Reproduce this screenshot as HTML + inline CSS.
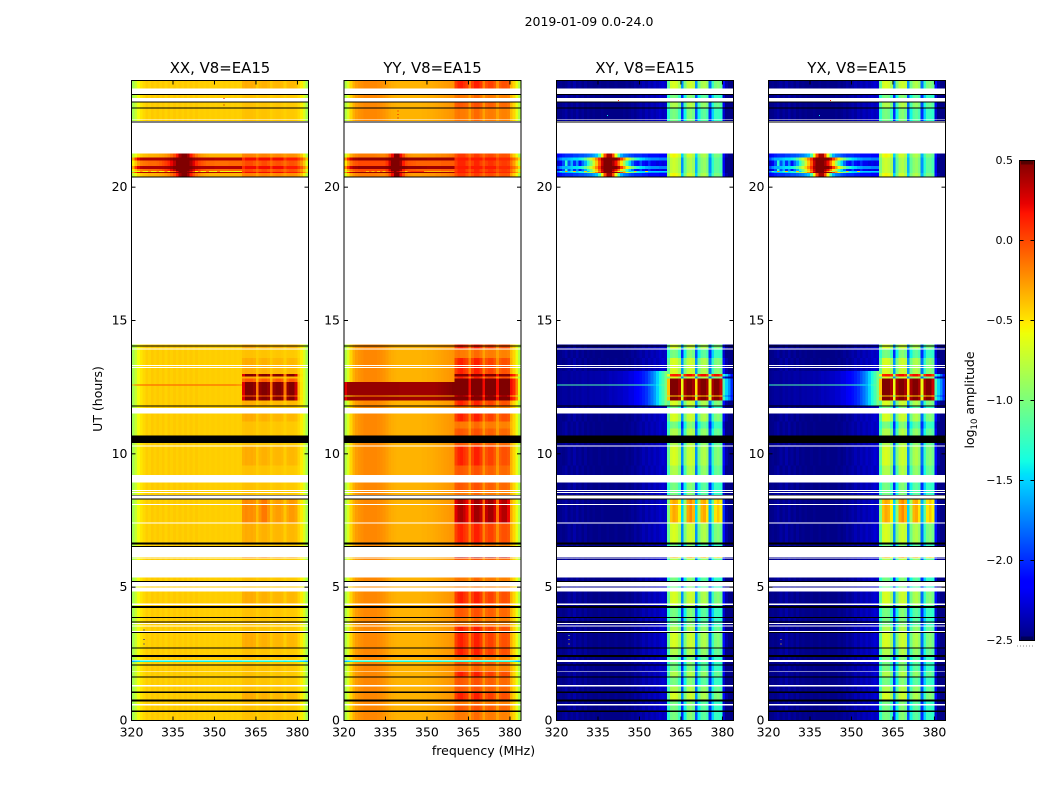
<!DOCTYPE html>
<html>
<head>
<meta charset="utf-8">
<title>2019-01-09 0.0-24.0</title>
<style>
html,body{margin:0;padding:0;background:#fff;}
svg{display:block;}
text{font-family:"DejaVu Sans","Liberation Sans",sans-serif;fill:#000;}
</style>
</head>
<body>
<svg id="figure" xmlns="http://www.w3.org/2000/svg" width="1050" height="800" viewBox="0 0 1050 800">
<rect x="0" y="0" width="1050" height="800" fill="#fff"/>
<text x="589" y="26" font-size="12.5" text-anchor="middle">2019-01-09 0.0-24.0</text>
<text x="0" y="0" font-size="12.5" text-anchor="middle" transform="translate(102 399) rotate(-90)">UT (hours)</text>
<text x="483.5" y="755" font-size="12.5" text-anchor="middle">frequency (MHz)</text>
<text x="0" y="0" font-size="12.5" text-anchor="middle" transform="translate(974 400) rotate(-90)">log<tspan font-size="8.5" dy="3">10</tspan><tspan dy="-3"> amplitude</tspan></text>
<g id="panels"></g>
<g id="colorbar"></g>
</svg>
<script>
// ---- categories and tick labels ----
const panelTitles = ['XX, V8=EA15','YY, V8=EA15','XY, V8=EA15','YX, V8=EA15'];
const channelCount = 64;
const firstFreq = 320;
const xTicks = [320,335,350,365,380];
const yTicks = [0,5,10,15,20];
const colorTicks = [0.5,0,-0.5,-1,-1.5,-2,-2.5];

// ---- XX spectra: log10 amplitude per 1 MHz channel ----
const xxLeftQuiet = [-.85,-.72,-.58,-.5,-.46,-.42,-.44,-.41,-.43,-.41,
 -.43,-.41,-.44,-.41,-.43,-.41,-.43,-.41,-.43,-.41,
 -.43,-.41,-.43,-.41,-.43,-.42,-.43,-.42,-.43,-.42,
 -.43,-.42,-.43,-.42,-.43,-.42,-.43,-.42,-.43,-.42];
const xxLeftLine = [-.3,-.1,-.05,-.03,-.03,-.03,-.03,-.03,-.03,-.03,
 -.03,-.03,-.03,-.03,-.03,-.03,-.03,-.03,-.03,-.03,
 -.03,-.03,-.03,-.03,-.03,-.03,-.03,-.03,-.03,-.03,
 -.03,-.03,-.03,-.03,-.03,-.03,-.03,-.05,-.1,-.15];
const xxLeftFlareDark = [-.3,.05,.25,.35,.38,.38,.38,.38,.38,.38,
 .38,.38,.4,.42,.45,.5,.5,.5,.5,.5,
 .5,.5,.45,.42,.4,.38,.38,.38,.38,.38,
 .36,.36,.36,.36,.36,.36,.36,.36,.36,.36];
const xxLeftFlareMid = [-.55,-.4,-.25,-.17,-.14,-.12,-.1,-.1,-.1,-.08,
 -.05,0,.05,.12,.22,.35,.5,.5,.5,.5,
 .5,.4,.25,.12,.03,-.03,-.07,-.1,-.1,-.1,
 -.12,-.12,-.12,-.12,-.12,-.1,-.1,-.1,-.1,-.1];
const xxLeftFlareEdge = [-.75,-.6,-.48,-.42,-.38,-.36,-.34,-.34,-.33,-.32,
 -.3,-.28,-.25,-.2,-.12,-.02,.15,.4,.5,.5,
 .4,.15,-.02,-.14,-.22,-.27,-.3,-.32,-.34,-.34,
 -.34,-.34,-.34,-.34,-.34,-.34,-.34,-.34,-.34,-.34];
const xxLeftFlareLine = [-.8,-.55,-.6,-.3,-.55,-.6,-.3,-.6,-.55,-.3,
 -.6,-.55,-.2,-.55,-.2,-.1,.2,.5,.5,.5,
 .4,.2,-.1,-.55,-.2,-.6,-.55,-.2,-.6,-.55,
 -.6,-.2,-.6,-.55,-.6,-.6,-.55,-.6,-.6,-.55];
const xxLeftCyan = [-1.6,-1.5,-1.45,-1.4,-1.4,-1.4,-1.4,-1.4,-1.4,-1.4,
 -1.4,-1.4,-1.4,-1.4,-1.4,-1.4,-1.4,-1.4,-1.4,-1.4,
 -1.4,-1.4,-1.4,-1.4,-1.4,-1.4,-1.4,-1.4,-1.4,-1.4,
 -1.4,-1.4,-1.4,-1.4,-1.4,-1.4,-1.4,-1.4,-1.4,-1.4];
const xxBandQuiet = [-.39,-.38,-.38,-.38,-.39,-.42,-.4,-.39,-.39,-.4,-.43,-.41,-.4,-.4,-.41,-.43,-.41,-.41,-.41,-.42,-.46,-.53,-.65,-.85];
const xxBandMid = [-.33,-.31,-.32,-.31,-.33,-.41,-.35,-.33,-.33,-.35,-.41,-.36,-.35,-.35,-.36,-.42,-.36,-.35,-.35,-.37,-.44,-.52,-.65,-.85];
const xxBandWarm = [-.22,-.2,-.22,-.21,-.24,-.36,-.24,-.15,-.15,-.25,-.38,-.3,-.27,-.27,-.3,-.4,-.3,-.26,-.26,-.3,-.44,-.52,-.65,-.85];
const xxBandHot = [.25,.5,.5,.5,.45,-.15,.45,.5,.5,.45,-.15,.45,.5,.5,.45,-.15,.45,.5,.5,.3,-.35,-.5,-.65,-.85];
const xxBandPre = [-.12,-.05,-.05,-.05,-.1,-.35,-.12,-.05,-.05,-.1,-.35,-.12,-.05,-.05,-.1,-.35,-.12,-.05,-.05,-.12,-.42,-.52,-.65,-.85];
const xxBandFlareDark = [.1,.2,.2,.2,.2,.05,.2,.2,.2,.2,.05,.2,.2,.2,.2,.05,.15,.15,.15,.15,.05,-.05,-.2,-.4];
const xxBandFlareMid = [-.05,0,0,0,-.05,-.12,-.05,0,0,-.05,-.12,-.05,-.02,-.02,-.05,-.12,-.05,-.02,-.02,-.05,-.15,-.25,-.4,-.65];
const xxBandFlareEdge = [-.2,-.18,-.18,-.18,-.2,-.27,-.2,-.18,-.18,-.2,-.27,-.22,-.2,-.2,-.22,-.27,-.23,-.22,-.22,-.24,-.3,-.4,-.55,-.8];
const xxBandCyan = [-1.35,-1.35,-1.35,-1.35,-1.35,-1.4,-1.35,-1.35,-1.35,-1.35,-1.4,-1.35,-1.35,-1.35,-1.35,-1.4,-1.35,-1.35,-1.35,-1.35,-1.4,-1.45,-1.5,-1.6];

// ---- YY spectra ----
const yyLeftQuiet = [-.8,-.65,-.45,-.33,-.27,-.24,-.22,-.2,-.2,-.2,
 -.2,-.2,-.21,-.22,-.24,-.27,-.3,-.32,-.33,-.34,
 -.34,-.34,-.34,-.34,-.34,-.34,-.34,-.34,-.33,-.33,
 -.32,-.32,-.31,-.3,-.29,-.28,-.27,-.26,-.25,-.24];
const yyLeftDark = [.25,.42,.44,.44,.44,.44,.44,.44,.44,.44,
 .44,.44,.44,.44,.44,.44,.44,.44,.44,.44,
 .42,.42,.42,.42,.42,.42,.42,.42,.42,.42,
 .42,.42,.42,.43,.44,.45,.46,.47,.48,.5];
const yyLeftFlareDark = [-.2,.1,.3,.4,.42,.45,.45,.45,.45,.45,
 .45,.45,.45,.45,.45,.47,.5,.5,.5,.5,
 .5,.5,.48,.45,.45,.45,.45,.45,.44,.44,
 .42,.42,.42,.42,.42,.42,.42,.42,.42,.42];
const yyLeftFlareMid = [-.5,-.3,-.15,-.06,-.03,0,0,0,0,0,
 0,0,0,0,0,.08,.3,.5,.5,.5,
 .4,.15,.02,-.03,-.05,-.06,-.08,-.08,-.08,-.08,
 -.08,-.08,-.08,-.08,-.08,-.06,-.06,-.06,-.06,-.06];
const yyLeftFlareEdge = [-.68,-.48,-.33,-.24,-.2,-.17,-.16,-.16,-.16,-.16,
 -.16,-.17,-.18,-.2,-.2,-.15,0,.2,.5,.5,
 .2,0,-.18,-.24,-.26,-.27,-.27,-.27,-.26,-.26,
 -.25,-.24,-.24,-.22,-.22,-.2,-.2,-.18,-.16,-.14];
const yyLeftFlareLine = [-.7,-.5,-.3,-.2,-.1,-.1,-.05,-.1,-.35,-.1,
 -.35,-.1,-.4,-.1,-.4,-.1,.05,.3,.5,.3,
 .05,-.1,-.4,-.05,.05,.05,.05,.05,.05,-.3,
 -.35,-.35,-.35,-.35,-.35,-.3,-.3,-.3,-.25,-.25];
const yyLeftCyan = [-1.6,-1.5,-1.4,-1.35,-1.35,-1.3,-1.3,-1.3,-1.3,-1.3,
 -1.3,-1.3,-1.3,-1.3,-1.3,-1.35,-1.35,-1.35,-1.35,-1.35,
 -1.35,-1.35,-1.35,-1.35,-1.35,-1.35,-1.35,-1.35,-1.35,-1.35,
 -1.35,-1.35,-1.35,-1.35,-1.35,-1.3,-1.3,-1.3,-1.3,-1.3];
const yyBandQuiet = [-.16,-.14,-.16,-.16,-.18,-.28,-.16,-.1,-.1,-.16,-.28,-.18,-.16,-.16,-.18,-.28,-.2,-.18,-.18,-.2,-.36,-.45,-.6,-.8];
const yyBandMid = [-.07,-.04,-.05,-.07,-.09,-.24,-.07,-.02,-.02,-.07,-.24,-.1,-.07,-.07,-.11,-.26,-.12,-.1,-.1,-.13,-.34,-.45,-.6,-.8];
const yyBandWarm = [.03,.12,.14,.08,.03,-.18,.03,.14,.14,.05,-.18,-.02,.03,.03,-.05,-.23,-.07,-.02,-.02,-.05,-.33,-.45,-.6,-.8];
const yyBandVery = [.25,.38,.4,.33,.22,-.1,.27,.42,.42,.33,-.1,.33,.42,.42,.27,-.13,.27,.37,.37,.22,-.3,-.45,-.6,-.8];
const yyBandHot = [.5,.5,.5,.5,.5,.2,.5,.5,.5,.5,.2,.5,.5,.5,.5,.2,.5,.5,.5,.5,.2,.1,-.2,-.6];
const yyBandFlareDark = [.1,.15,.15,.15,.15,.02,.15,.15,.15,.15,.02,.15,.15,.15,.15,.02,.1,.1,.1,.1,-.03,-.12,-.27,-.45];
const yyBandFlareMid = [.03,.12,.12,.12,.03,-.05,.03,.12,.12,.03,-.05,.03,.08,.08,.03,-.05,.02,.05,.05,.02,-.13,-.27,-.47,-.72];
const yyBandFlareEdge = [-.03,.05,.05,.05,-.03,-.12,-.03,.05,.05,-.03,-.12,-.03,0,0,-.05,-.14,-.05,-.03,-.03,-.05,-.28,-.42,-.57,-.82];
const yyBandCyan = [-1.3,-1.3,-1.3,-1.3,-1.3,-1.35,-1.3,-1.3,-1.3,-1.3,-1.35,-1.3,-1.3,-1.3,-1.3,-1.35,-1.3,-1.3,-1.3,-1.3,-1.35,-1.4,-1.5,-1.6];

// ---- XY spectra (also used for the near-identical YX panel) ----
const xyLeftNoiseA = [-2.48,-2.47,-2.44,-2.4,-2.47,-2.42,-2.46,-2.4,-2.47,-2.43,
 -2.48,-2.45,-2.48,-2.46,-2.48,-2.48,-2.46,-2.48,-2.48,-2.48,
 -2.48,-2.48,-2.48,-2.48,-2.46,-2.48,-2.46,-2.43,-2.46,-2.42,
 -2.38,-2.42,-2.36,-2.4,-2.34,-2.38,-2.34,-2.3,-2.34,-2.3];
const xyLeftNoiseB = [-2.48,-2.46,-2.48,-2.46,-2.41,-2.46,-2.39,-2.46,-2.43,-2.48,
 -2.43,-2.48,-2.46,-2.48,-2.48,-2.46,-2.48,-2.48,-2.46,-2.48,
 -2.48,-2.46,-2.48,-2.48,-2.48,-2.45,-2.48,-2.46,-2.41,-2.45,
 -2.41,-2.36,-2.4,-2.34,-2.38,-2.32,-2.36,-2.32,-2.28,-2.32];
const xyLeftHalo = [-2.46,-2.44,-2.42,-2.42,-2.44,-2.4,-2.42,-2.4,-2.42,-2.39,
 -2.4,-2.42,-2.39,-2.4,-2.39,-2.39,-2.37,-2.39,-2.37,-2.34,
 -2.36,-2.34,-2.32,-2.32,-2.29,-2.29,-2.24,-2.24,-2.19,-2.14,
 -2.09,-2.04,-1.98,-1.88,-1.78,-1.66,-1.5,-1.35,-1.2,-1];
const xyLeftLine = [-1.3,-1.2,-1.15,-1.15,-1.15,-1.15,-1.15,-1.15,-1.15,-1.15,
 -1.15,-1.15,-1.15,-1.15,-1.15,-1.15,-1.15,-1.15,-1.15,-1.15,
 -1.15,-1.15,-1.15,-1.15,-1.15,-1.15,-1.15,-1.15,-1.15,-1.15,
 -1.2,-1.25,-1.3,-1.35,-1.4,-1.5,-1.4,-1.2,-1.1,-1];
const xyLeftFlareDark = [-1.9,-1.7,-1.6,-1.6,-1.55,-1.5,-1.45,-1.45,-1.4,-1.3,
 -1.1,-.9,-.7,-.45,-.2,.1,.4,.5,.5,.5,
 .5,.5,.35,.05,-.25,-.55,-.8,-1,-1.2,-1.35,
 -1.45,-1.5,-1.6,-1.65,-1.7,-1.7,-1.7,-1.75,-1.75,-1.75];
const xyLeftFlareMid = [-2.3,-2.2,-1.9,-1.3,-1.9,-1.6,-2,-1.7,-2.1,-1.8,
 -1.6,-1.3,-1,-.7,-.4,-.05,.3,.5,.5,.5,
 .4,.2,-.15,-.5,-.85,-1.2,-1.5,-1.8,-2.05,-2.1,
 -1.9,-2.1,-2.2,-2,-2.2,-2.2,-2.25,-2.2,-2.25,-2.2];
const xyLeftFlareEdge = [-2.2,-2.1,-2.05,-2,-2,-2,-1.95,-1.95,-1.9,-1.9,
 -1.85,-1.8,-1.75,-1.65,-1.55,-1.2,-.6,0,.4,.4,
 0,-.6,-1.2,-1.6,-1.75,-1.8,-1.9,-1.95,-2,-2,
 -2,-2.05,-2.05,-2.1,-2.1,-2.1,-2.1,-2.15,-2.15,-2.15];
const xyLeftFlareLine = [-1.7,-1.2,-1.5,-.3,-1.5,-1.2,-.4,-1.5,-1.2,-1.5,
 -.4,-1.5,-1.1,-.8,-.5,-.2,.2,.5,.5,.5,
 .2,-.2,-.6,-1,-.4,-1.3,-1.5,-1.4,-.4,-1.4,
 -1.5,-1.5,-.5,-1.5,-1.5,-1.5,-1.5,-1.5,-1.5,-1.5];
const xyBandCool = [-1.3,-1.05,-1,-1.05,-1.25,-2,-1.4,-1,-.95,-1.05,-1.9,-1.4,-1.15,-1.1,-1.2,-2,-1.5,-1.25,-1.25,-1.3,-2.3,-2.48,-2.48,-2.48];
const xyBandMid = [-1.2,-.85,-.8,-.82,-1,-1.9,-1.2,-.85,-.78,-.85,-1.8,-1.2,-.95,-.9,-1,-1.9,-1.35,-1.1,-1.05,-1.15,-2.2,-2.48,-2.48,-2.48];
const xyBandBright = [-1.1,-.7,-.65,-.7,-.85,-1.7,-1,-.75,-.7,-.75,-1.7,-1.05,-.85,-.8,-.9,-1.8,-1.25,-1,-.95,-1.05,-2.1,-2.4,-2.48,-2.48];
const xyBandOrange = [-1,-.4,-.3,-.35,-.55,-1.5,-.9,-.3,-.2,-.35,-1.5,-.85,-.35,-.3,-.5,-1.6,-1.1,-.5,-.4,-.55,-2,-2.4,-2.48,-2.48];
const xyBandHot = [-.4,.5,.5,.5,.4,-.6,.4,.5,.5,.4,-.5,.4,.5,.5,.4,-.6,.4,.5,.5,.3,-1.2,-1.5,-1.7,-2];
const xyBandRed = [-.6,.1,.15,.15,.1,-.9,.1,.2,.2,.1,-.8,.1,.2,.2,.1,-.9,.1,.2,.2,.05,-1.3,-1.5,-1.8,-2.1];
const xyBandPre = [-.9,-.45,-.4,-.4,-.5,-1.2,-.5,-.4,-.4,-.5,-1.2,-.5,-.4,-.4,-.5,-1.2,-.5,-.4,-.4,-.55,-1.6,-1.8,-1.95,-2.1];
const xyBandFlare = [-1,-.75,-.7,-.75,-.85,-1.7,-1.1,-.85,-.8,-.9,-1.6,-1.1,-.95,-.9,-1,-1.7,-1.3,-1.1,-1.1,-1.2,-2.2,-2.48,-2.48,-2.48];
const xyBandFlareEdge = [-.85,-.6,-.55,-.6,-.7,-1.5,-1,-.7,-.7,-.8,-1.5,-1,-.85,-.8,-.9,-1.6,-1.2,-1,-1,-1.1,-2.1,-2.4,-2.48,-2.48];

// profile lookup per panel
const xxProfiles = {
 c:[...xxLeftQuiet,...xxBandQuiet], C:[...xxLeftQuiet,...xxBandQuiet],
 m:[...xxLeftQuiet,...xxBandQuiet], M:[...xxLeftQuiet,...xxBandQuiet],
 y:[...xxLeftQuiet,...xxBandMid], o:[...xxLeftQuiet,...xxBandWarm],
 r:[...xxLeftQuiet,...xxBandHot], p:[...xxLeftQuiet,...xxBandPre],
 s:[...xxLeftQuiet,...xxBandPre], z:[...xxLeftQuiet,...xxBandMid],
 h:[...xxLeftQuiet,...xxBandHot], l:[...xxLeftLine,...xxBandHot],
 fd:[...xxLeftFlareDark,...xxBandFlareDark], fm:[...xxLeftFlareMid,...xxBandFlareMid],
 fe:[...xxLeftFlareEdge,...xxBandFlareEdge], fl:[...xxLeftFlareLine,...xxBandFlareMid],
 cy:[...xxLeftCyan,...xxBandCyan]
};
const yyProfiles = {
 c:[...yyLeftQuiet,...yyBandQuiet], C:[...yyLeftQuiet,...yyBandMid],
 m:[...yyLeftQuiet,...yyBandMid], M:[...yyLeftQuiet,...yyBandWarm],
 y:[...yyLeftQuiet,...yyBandWarm], o:[...yyLeftQuiet,...yyBandVery],
 r:[...yyLeftQuiet,...yyBandHot], p:[...yyLeftQuiet,...yyBandVery],
 s:[...yyLeftQuiet,...yyBandHot], z:[...yyLeftQuiet,...yyBandWarm],
 h:[...yyLeftDark,...yyBandHot], l:[...yyLeftDark,...yyBandHot],
 fd:[...yyLeftFlareDark,...yyBandFlareDark], fm:[...yyLeftFlareMid,...yyBandFlareMid],
 fe:[...yyLeftFlareEdge,...yyBandFlareEdge], fl:[...yyLeftFlareLine,...yyBandFlareMid],
 cy:[...yyLeftCyan,...yyBandCyan]
};
const xyProfiles = {
 c:[...xyLeftNoiseA,...xyBandCool], C:[...xyLeftNoiseB,...xyBandCool],
 m:[...xyLeftNoiseA,...xyBandMid], M:[...xyLeftNoiseB,...xyBandMid],
 y:[...xyLeftNoiseB,...xyBandBright], o:[...xyLeftNoiseA,...xyBandOrange],
 r:[...xyLeftHalo,...xyBandRed], p:[...xyLeftHalo,...xyBandPre],
 s:[...xyLeftHalo,...xyBandHot], z:[...xyLeftHalo,...xyBandBright],
 h:[...xyLeftHalo,...xyBandHot], l:[...xyLeftLine,...xyBandHot],
 fd:[...xyLeftFlareDark,...xyBandFlare], fm:[...xyLeftFlareMid,...xyBandFlare],
 fe:[...xyLeftFlareEdge,...xyBandFlareEdge], fl:[...xyLeftFlareLine,...xyBandFlare]
};
const yxProfiles = xyProfiles;
const panelProfiles = [xxProfiles,yyProfiles,xyProfiles,yxProfiles];

// ---- scans: hour top, hour bottom, profile key ----
const scans = [
 [24,23.7,'y'],[23.45,23.34,'c'],[23.18,22.99,'m'],[22.95,22.56,'c'],[22.53,22.49,'c'],
 [21.26,21.12,'fe'],[21.11,21,'fd'],[21,20.94,'fm'],[20.94,20.8,'fm'],[20.8,20.69,'fd'],
 [20.69,20.61,'fm'],[20.61,20.57,'fl'],[20.57,20.53,'fd'],[20.53,20.4,'fe'],
 [14.1,14.06,'y'],[14.03,13.95,'y'],[13.91,13.6,'c'],[13.6,13.34,'y'],[13.3,13.25,'y'],
 [13.21,13.1,'y'],[13.1,12.99,'z'],[12.99,12.9,'r'],[12.9,12.82,'z'],[12.82,12.69,'s'],
 [12.69,12.6,'h'],[12.6,12.56,'l'],[12.56,12.19,'h'],[12.19,12.15,'p'],[12.15,12,'h'],
 [12,11.81,'z'],[11.78,11.71,'c'],
 [11.51,11.21,'y'],[11.21,10.95,'c'],[10.95,10.69,'m'],[10.4,10.31,'m'],[10.28,9.56,'y'],
 [9.56,9.2,'m'],[8.93,8.65,'C'],[8.61,8.57,'c'],[8.53,8.46,'c'],[8.29,8.12,'o'],
 [8.08,7.43,'o'],[7.39,6.68,'y'],[6.6,6.55,'c'],[6.14,6.11,'o'],[6.08,6.01,'m'],
 [5.36,5.24,'c'],[5.03,4.99,'c'],[4.84,4.38,'y'],[4.34,4.29,'m'],[4.21,3.89,'C'],
 [3.85,3.71,'c'],[3.68,3.65,'c'],[3.61,3.57,'c'],[3.53,3.36,'M'],[3.28,2.74,'y'],
 [2.7,2.46,'M'],[2.39,2.27,'c'],[2.25,2.2,'cy'],[2.2,2.1,'C'],[2.06,1.86,'c'],
 [1.83,1.65,'M'],[1.61,1.34,'C'],[1.28,1.08,'m'],[1.04,0.78,'y'],[0.72,0.62,'c'],
 [0.57,0.37,'C'],[0.31,0,'c']
];
// fully flagged (black) rows: hour top, hour bottom
const blackRows = [
 [23.5,23.46],[23.22,23.18],[22.99,22.95],[22.46,22.43],[20.4,20.36],[14.06,14.03],
 [11.81,11.78],[10.69,10.4],[8.45,8.43],[8.33,8.29],[6.68,6.6],[6.55,6.5],[5.24,5.2],
 [4.29,4.21],[3.89,3.85],[3.71,3.68],[3.32,3.28],[2.74,2.7],[2.46,2.39],[2.1,2.06],
 [1.65,1.61],[1.08,1.04],[0.78,0.72],[0.37,0.31]
];
// isolated pixels: panel, channel, hour, value
const speckPanel = [0,0,0,0,0,1,1,1,2,2,2,2,2,3,3,3,3];
const speckChan = [4,4,4,33,33,19,19,19,22,18,4,4,4,22,18,4,4];
const speckHour = [3.41,3.06,2.88,23.35,23.1,22.88,22.75,22.62,23.27,22.7,3.2,3.06,2.88,23.27,22.7,3.06,2.88];
const speckVal = [-2.4,-2.4,-2.4,.3,.4,.2,.2,.3,.1,-1.4,-1,-.4,-.4,.1,-1.4,-.4,-.4];

// ---- geometry and scales ----
const panelLefts = [131.5,344,556.5,768.5];
const axW = 177, axTop = 80.5, axBottom = 720.5;
const xScale = (left, f) => left + (f - firstFreq) * axW / channelCount;
const yScale = t => axBottom - t * (axBottom - axTop) / 24;

const jetR = [[0,0],[.35,0],[.66,1],[.89,1],[1,.5]];
const jetG = [[0,0],[.125,0],[.375,1],[.64,1],[.91,0],[1,0]];
const jetB = [[0,.5],[.11,1],[.34,1],[.65,0],[1,0]];
function lerp(tab, x){
  for(let i=1;i<tab.length;i++){
    if(x<=tab[i][0]){
      const a=tab[i-1],b=tab[i];
      return a[1]+(b[1]-a[1])*(x-a[0])/(b[0]-a[0]);
    }
  }
  return tab[tab.length-1][1];
}
function jet(v){
  const f=Math.max(0,Math.min(1,(v+2.5)/3));
  return 'rgb('+Math.round(lerp(jetR,f)*255)+','+Math.round(lerp(jetG,f)*255)+','+Math.round(lerp(jetB,f)*255)+')';
}

const NS='http://www.w3.org/2000/svg';
function mk(tag, parent, props){
  const el=document.createElementNS(NS,tag);
  for(const k in props){ el.setAttribute(k,props[k]); }
  parent.appendChild(el);
  return el;
}

const panelsG=document.getElementById('panels');
panelTitles.forEach((title,p)=>{
  const left=panelLefts[p];
  const profiles=panelProfiles[p];
  const g=mk('g',panelsG,{});
  
  
  const cells=mk('g',g,{'shape-rendering':'crispEdges'});
  
  
  scans.forEach(s=>{
    const prof=profiles[s[2]];
    if(!prof) return;
    const y0=yScale(s[0]), y1=yScale(s[1]);
    for(let c=0;c<channelCount;c++){
      const x0=xScale(left,firstFreq+c), x1=xScale(left,firstFreq+c+1);
      const r=mk('rect',cells,{x:x0,y:y0,width:x1-x0,height:y1-y0,fill:jet(prof[c])});
      
      
    }
  });
  blackRows.forEach(b=>{
    const r=mk('rect',cells,{x:left,y:yScale(b[0]),width:axW,height:yScale(b[1])-yScale(b[0]),fill:'#000'});
    
    
  });
  speckPanel.forEach((sp,i)=>{
    if(sp!==p) return;
    const x0=xScale(left,firstFreq+speckChan[i]);
    const r=mk('rect',cells,{x:x0+0.9,y:yScale(speckHour[i]),width:1,height:1,fill:jet(speckVal[i])});
    
    
  });
  const frame=mk('rect',g,{x:left,y:axTop,width:axW,height:axBottom-axTop,fill:'none',stroke:'#000','stroke-width':1});
  
  
  const t=mk('text',g,{x:left+axW/2,y:73,'font-size':'14.9','text-anchor':'middle'});
  t.textContent=title;
  
  
  xTicks.forEach(v=>{
    const x=xScale(left,v);
    const a=mk('line',g,{x1:x,x2:x,y1:axBottom,y2:axBottom-4,stroke:'#000','stroke-width':1});
    
    
    const b=mk('line',g,{x1:x,x2:x,y1:axTop,y2:axTop+4,stroke:'#000','stroke-width':1});
    
    
    const lb=mk('text',g,{x:x,y:736.5,'font-size':'12.5','text-anchor':'middle'});
    lb.textContent=String(v);
    
    
  });
  yTicks.forEach(v=>{
    const y=yScale(v);
    const a=mk('line',g,{x1:left,x2:left+4,y1:y,y2:y,stroke:'#000','stroke-width':1});
    
    
    const b=mk('line',g,{x1:left+axW,x2:left+axW-4,y1:y,y2:y,stroke:'#000','stroke-width':1});
    
    
    const lb=mk('text',g,{x:left-4,y:y+4,'font-size':'12.5','text-anchor':'end'});
    lb.textContent=String(v);
    
    
  });
});

// ---- colorbar ----
const cbG=document.getElementById('colorbar');
const cbX=1019.5, cbW=15, cbTop=160.5, cbBottom=640.5;
const cbScale=v=>cbBottom-(v+2.5)*(cbBottom-cbTop)/3;
const cbCells=mk('g',cbG,{'shape-rendering':'crispEdges'});


for(let i=0;i<240;i++){
  const v0=-2.5+i*3/240, v1=-2.5+(i+1)*3/240;
  const r=mk('rect',cbCells,{x:cbX,y:cbScale(v1),width:cbW,height:cbScale(v0)-cbScale(v1),fill:jet((v0+v1)/2)});
  
  
}
const cbFrame=mk('rect',cbG,{x:cbX,y:cbTop,width:cbW,height:cbBottom-cbTop,fill:'none',stroke:'#000','stroke-width':1});


colorTicks.forEach(v=>{
  const y=cbScale(v);
  const a=mk('line',cbG,{x1:cbX,x2:cbX+4,y1:y,y2:y,stroke:'#000','stroke-width':1});
  
  
  const b=mk('line',cbG,{x1:cbX+cbW,x2:cbX+cbW-4,y1:y,y2:y,stroke:'#000','stroke-width':1});
  
  
  const lb=mk('text',cbG,{x:1013,y:y+3.5,'font-size':'11','text-anchor':'end'});
  lb.textContent=String(v).replace('-','\u2212')+(Number.isInteger(v)?'.0':'');
  
  
});
[0,1,2,3,4,5].forEach(i=>{
  const x=cbX+2.5+i*2;
  const a=mk('line',cbG,{x1:x,x2:x,y1:cbTop,y2:cbTop+4,stroke:'#000','stroke-width':0.7});
  
  
  const b=mk('line',cbG,{x1:x,x2:x,y1:cbBottom,y2:cbBottom-4,stroke:'#000','stroke-width':0.7});
  
  
});
const dots=mk('line',cbG,{x1:1017,x2:1035,y1:646,y2:646,stroke:'#888','stroke-width':1,'stroke-dasharray':'1 2'});


</script>
</body>
</html>
